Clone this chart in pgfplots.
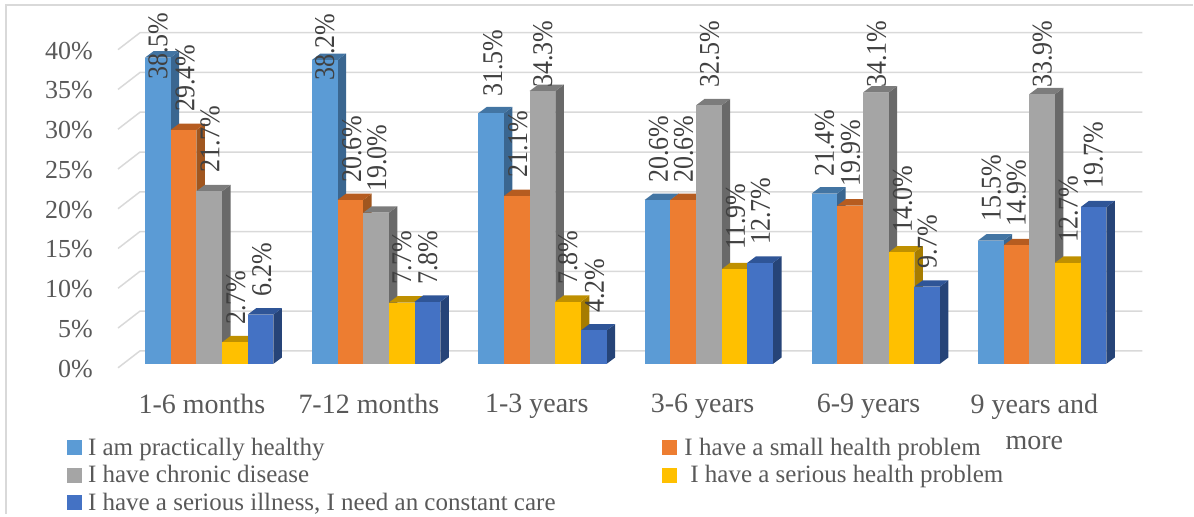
\documentclass[border=0pt]{standalone}
\usepackage{fontspec}
\setmainfont{Liberation Serif}
\usepackage{pgfplots}
\pgfplotsset{compat=1.18}

\definecolor{txt}{HTML}{595959}
\definecolor{lab}{HTML}{404040}
\definecolor{gridc}{HTML}{D9D9D9}
\definecolor{sa}{HTML}{5B9BD5}\definecolor{saS}{HTML}{3A6690}\definecolor{saT}{HTML}{4375A3}
\definecolor{sb}{HTML}{ED7D31}\definecolor{sbS}{HTML}{A0561F}\definecolor{sbT}{HTML}{B65C20}
\definecolor{sc}{HTML}{A5A5A5}\definecolor{scS}{HTML}{696969}\definecolor{scT}{HTML}{7C7C7C}
\definecolor{sd}{HTML}{FFC000}\definecolor{sdS}{HTML}{A67C00}\definecolor{sdT}{HTML}{BF9000}
\definecolor{se}{HTML}{4472C4}\definecolor{seS}{HTML}{264478}\definecolor{seT}{HTML}{2F5597}

% one pseudo-3D bar: left x, value, colour name
\newcommand{\barthree}[3]{%
  \pgfmathsetmacro\xa{#1}\pgfmathsetmacro\xb{#1+25.7}%
  \pgfmathsetmacro\xc{#1+25.7+8.5}\pgfmathsetmacro\xd{#1+8.5}%
  \pgfmathsetmacro\yt{#2+0.8}%
  \addplot[fill=#3S,draw=none,forget plot] coordinates {(\xb,0) (\xc,0.8) (\xc,\yt) (\xb,#2)};
  \addplot[fill=#3T,draw=none,forget plot] coordinates {(\xa,#2) (\xb,#2) (\xc,\yt) (\xd,\yt)};
  \addplot[fill=#3,draw=none,forget plot] coordinates {(\xa,0) (\xb,0) (\xb,#2) (\xa,#2)};
}
\newcommand{\group}[6]{%
  \pgfmathsetmacro\gx{#1}\edef\gxa{\gx}%
  \pgfmathsetmacro\gb{#1+25.7}\edef\gxb{\gb}%
  \pgfmathsetmacro\gc{#1+51.4}\edef\gxc{\gc}%
  \pgfmathsetmacro\gd{#1+77.1}\edef\gxd{\gd}%
  \pgfmathsetmacro\ge{#1+102.8}\edef\gxe{\ge}%
  \barthree{\gxa}{#2}{sa}\barthree{\gxb}{#3}{sb}\barthree{\gxc}{#4}{sc}\barthree{\gxd}{#5}{sd}\barthree{\gxe}{#6}{se}%
}
% data label: centre x, y of its lower end in picture pixels, text
\newcommand{\lab}[3]{\node[rotate=90,yscale=1.1,anchor=west,inner sep=0pt,text=lab,font=\fontsize{26}{26}\selectfont] at (axis cs:#1,{(364-#2)/7.96}) {#3\%};}

\begin{document}
\begin{tikzpicture}
\begin{axis}[
    scale only axis,
    width=1194pt,
    height=514pt,
    xmin=0, xmax=1194,
    ymin=-18.844, ymax=45.729,
    clip=false,
    axis line style={draw=none},
    major tick length=0pt,
    xtick={202,369,537,703,869,1035},
    xticklabels={1-6 months,7-12 months,1-3 years,3-6 years,6-9 years,9 years and\\more},
    xticklabel style={align=center,yshift=123pt,text=txt,font=\fontsize{28}{36}\selectfont},
    ytick={0,5,...,40},
    yticklabels={0\%,5\%,10\%,15\%,20\%,25\%,30\%,35\%,40\%},
    yticklabel style={anchor=east,xshift=93pt,yshift=-5pt,inner sep=0pt,text=txt,font=\fontsize{26}{26}\selectfont},
    legend columns=2,
    legend cell align=left,
    legend style={draw=none,fill=none,at={(0.0534,0.156)},anchor=north west,
      font=\fontsize{25}{25}\selectfont,text=txt,row sep=5pt,
      /tikz/column 1/.style={column sep=4pt},
      /tikz/column 2/.style={column sep=105pt},
      /tikz/column 3/.style={column sep=5pt}},
    legend image code/.code={\fill[#1,draw=none] (0pt,-7.5pt) rectangle (15pt,7.5pt);},
]
% frame
\draw[gridc,line width=1.5pt] (axis cs:6,-18.844) -- (axis cs:6,45.1) -- (axis cs:1194,45.1);
% wall and back gridlines
\addplot[gridc,line width=1.5pt,forget plot] coordinates {(118,-0.5) (140,1.63) (1143,1.63)};
\addplot[gridc,line width=1.5pt,forget plot] coordinates {(118,4.5) (140,6.63) (1143,6.63)};
\addplot[gridc,line width=1.5pt,forget plot] coordinates {(118,9.5) (140,11.63) (1143,11.63)};
\addplot[gridc,line width=1.5pt,forget plot] coordinates {(118,14.5) (140,16.63) (1143,16.63)};
\addplot[gridc,line width=1.5pt,forget plot] coordinates {(118,19.5) (140,21.63) (1143,21.63)};
\addplot[gridc,line width=1.5pt,forget plot] coordinates {(118,24.5) (140,26.63) (1143,26.63)};
\addplot[gridc,line width=1.5pt,forget plot] coordinates {(118,29.5) (140,31.63) (1143,31.63)};
\addplot[gridc,line width=1.5pt,forget plot] coordinates {(118,34.5) (140,36.63) (1143,36.63)};
\addplot[gridc,line width=1.5pt,forget plot] coordinates {(118,39.5) (140,41.63) (1143,41.63)};
% bars
\group{145}{38.5}{29.4}{21.7}{2.7}{6.2}
\group{312}{38.2}{20.6}{19.0}{7.7}{7.8}
\group{478.5}{31.5}{21.1}{34.3}{7.8}{4.2}
\group{645}{20.6}{20.6}{32.5}{11.9}{12.7}
\group{812}{21.4}{19.9}{34.1}{14.0}{9.7}
\group{978.5}{15.5}{14.9}{33.9}{12.7}{19.7}
% legend
\addlegendimage{fill=sa}\addlegendentry{I am practically healthy}
\addlegendimage{fill=sb}\addlegendentry{I have a small health problem}
\addlegendimage{fill=sc}\addlegendentry{I have chronic disease}
\addlegendimage{fill=sd}\addlegendentry{\hspace{6pt}I have a serious health problem}
\addlegendimage{fill=se}\addlegendentry{I have a serious illness, I need an constant care}
% data labels
\lab{158}{80}{38.5}\lab{185}{112}{29.4}\lab{210}{173}{21.7}\lab{236}{325}{2.7}\lab{262}{297}{6.2}
\lab{325}{81}{38.2}\lab{352}{183}{20.6}\lab{377}{192}{19.0}\lab{402}{285}{7.7}\lab{428}{285}{7.8}
\lab{493}{97}{31.5}\lab{518}{178}{21.1}\lab{543}{88}{34.3}\lab{568}{285}{7.8}\lab{595}{313}{4.2}
\lab{659}{183}{20.6}\lab{684}{183}{20.6}\lab{710}{88}{32.5}\lab{736}{250}{11.9}\lab{761}{245}{12.7}
\lab{825}{177}{21.4}\lab{851}{187}{19.9}\lab{877}{88}{34.1}\lab{903}{233}{14.0}\lab{928}{269}{9.7}
\lab{992}{222}{15.5}\lab{1017}{227}{14.9}\lab{1043}{88}{33.9}\lab{1069}{243}{12.7}\lab{1094}{189}{19.7}
\end{axis}
\end{tikzpicture}
\end{document}
